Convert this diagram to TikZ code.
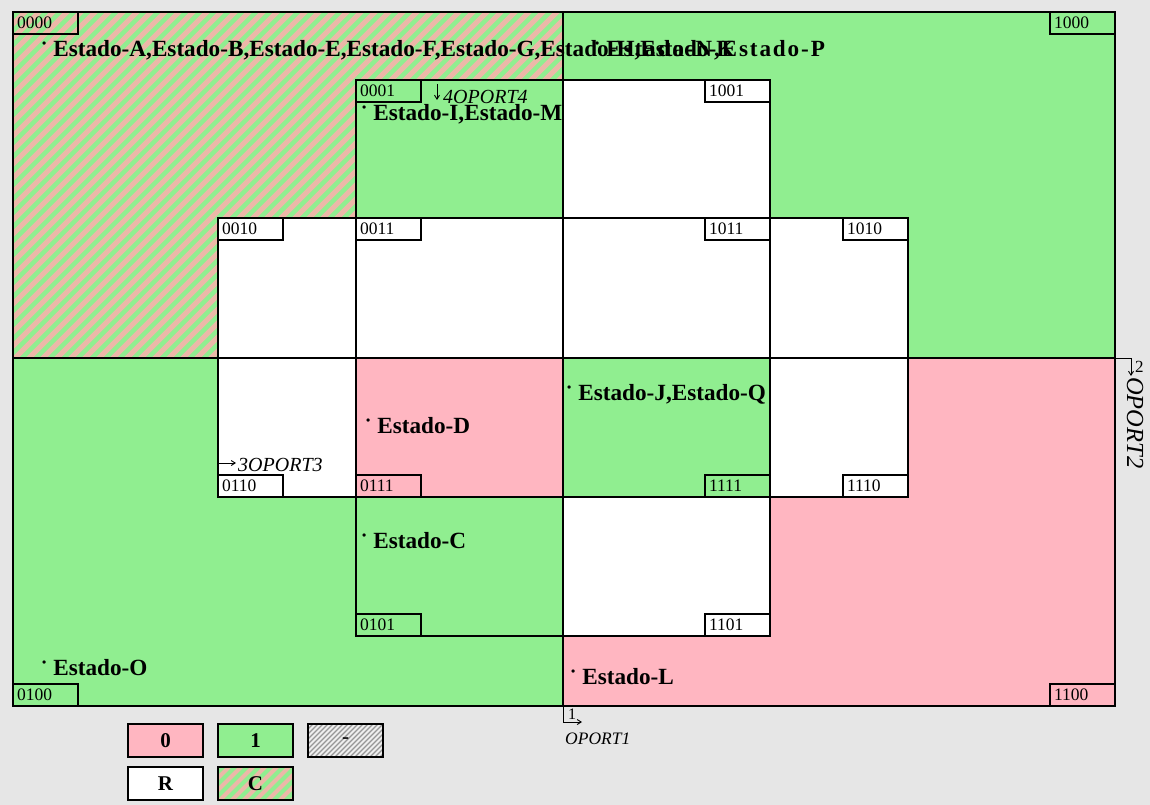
\documentclass[tikz,border=0pt]{standalone}
\usepackage{fontspec}
\setmainfont{Liberation Serif}
\usetikzlibrary{arrows.meta}
\definecolor{bgc}{RGB}{230,230,230}
\definecolor{lgreen}{RGB}{144,238,144}
\definecolor{lpink}{RGB}{255,182,193}
\definecolor{stripec}{RGB}{236,184,168}
\definecolor{hatchbg}{RGB}{238,238,238}
\definecolor{hatchfg}{RGB}{150,150,150}
\newcommand\bul{{\fontsize{12}{12}\selectfont\raisebox{0.75em}{•}}\hspace{7pt}}
\newcommand\hatch[7]{%
  \begin{scope}
    \clip (#1,#2) rectangle (#3,#4);
    \foreach \k in {-80,...,80}{
      \draw[#6, line width=#7] ({#1+\k*#5},{#4+2}) -- ({#1+\k*#5+(#4-#2)+4},{#2-2});
    }
  \end{scope}}
\newcommand\cellbox[6]{\node[cell, fill=#6, minimum width={#4-#2}, minimum height={#5-#3}] (#1) at (#2,#3) {};}
\newcommand\lab[3]{\node[lbl, anchor=#2] (L#1) at (#3) {#1};}
\begin{document}
\begin{tikzpicture}[x=1pt,y=-1pt,
  cell/.style={draw=black, line width=1.3pt, inner sep=0pt, outer sep=0pt, anchor=north west},
  lbl/.style={draw=black, line width=1.1pt, inner xsep=4pt, inner ysep=0pt, outer sep=0pt,
     text width=57pt, align=left, minimum height=22pt, font=\fontsize{17.5}{17.5}\selectfont},
  st/.style={anchor=base west, inner sep=0pt, font=\fontsize{23.2}{23.2}\selectfont\bfseries},
  port/.style={inner sep=0pt, font=\fontsize{20}{20}\selectfont\itshape},
  conn/.style={line width=0.9pt, -{Straight Barb[length=4pt,width=5pt]}},
  leg/.style={draw=black, line width=1.2pt, inner sep=0pt, outer sep=0pt, minimum width=75pt, minimum height=33pt, font=\fontsize{21}{21}\selectfont\bfseries}]
\useasboundingbox (0,0) rectangle (1150,805);
\fill[bgc] (0,0) rectangle (1150,805);
% quadrants
\cellbox{q0000}{13}{12}{563}{358}{lgreen}
\hatch{13}{12}{563}{358}{14}{stripec}{5pt}
\draw[line width=1.3pt] (q0000.north west) rectangle (q0000.south east);
\cellbox{q1000}{563}{12}{1115}{358}{lgreen}
\cellbox{q0100}{13}{358}{563}{706}{lgreen}
\cellbox{q1100}{563}{358}{1115}{706}{lpink}
% inner cells
\cellbox{c0001}{356}{80}{563}{218}{lgreen}
\cellbox{c1001}{563}{80}{770}{218}{white}
\cellbox{c0010}{218}{218}{356}{358}{white}
\cellbox{c0011}{356}{218}{563}{358}{white}
\cellbox{c1011}{563}{218}{770}{358}{white}
\cellbox{c1010}{770}{218}{908}{358}{white}
\cellbox{c0110}{218}{358}{356}{497}{white}
\cellbox{c0111}{356}{358}{563}{497}{lpink}
\cellbox{c1111}{563}{358}{770}{497}{lgreen}
\cellbox{c1110}{770}{358}{908}{497}{white}
\cellbox{c0101}{356}{497}{563}{636}{lgreen}
\cellbox{c1101}{563}{497}{770}{636}{white}
% labels
\lab{0000}{north west}{q0000.north west}
\lab{1000}{north east}{q1000.north east}
\lab{0100}{south west}{q0100.south west}
\lab{1100}{south east}{q1100.south east}
\lab{0001}{north west}{c0001.north west}
\lab{1001}{north east}{c1001.north east}
\lab{0010}{north west}{c0010.north west}
\lab{0011}{north west}{c0011.north west}
\lab{1011}{north east}{c1011.north east}
\lab{1010}{north east}{c1010.north east}
\lab{0110}{south west}{c0110.south west}
\lab{0111}{south west}{c0111.south west}
\lab{1111}{south east}{c1111.south east}
\lab{1110}{south east}{c1110.south east}
\lab{0101}{south west}{c0101.south west}
\lab{1101}{south east}{c1101.south east}
% state texts
\node[st] (sA) at (42,57) {\bul Estado-A,Estado-B,Estado-E,Estado-F,Estado-G,Estado-H,Estado-K};
\node[st] (sN) at (595,57) {\bul{\addfontfeature{LetterSpace=8}Estado-N,Estado-P}};
\node[st] (sI) at (362,121) {\bul Estado-I,Estado-M};
\node[st] (sJ) at (567,400) {\bul Estado-J,Estado-Q};
\node[st] (sD) at (366,433) {\bul Estado-D};
\node[st] (sC) at (362,548) {\bul Estado-C};
\node[st] (sO) at (42,675) {\bul Estado-O};
\node[st] (sL) at (571,684) {\bul Estado-L};
% ports
\coordinate (p4a) at (437,84);
\coordinate (p4b) at (437,100);
\draw[conn] (p4a) -- (p4b);
\node[port, anchor=base west] (t4) at (443,104) {4OPORT4};
\coordinate (p3a) at (219,463);
\coordinate (p3b) at (236,463);
\draw[conn] (p3a) -- (p3b);
\node[port, anchor=base west] (t3) at (238,471) {3OPORT3};
\coordinate (p1a) at (563,706);
\coordinate (p1b) at (563,722);
\coordinate (p1c) at (582,722);
\draw[conn] (p1a) -- (p1b) -- (p1c);
\node[inner sep=0pt, anchor=base west, font=\fontsize{16}{16}\selectfont] (n1) at (568,719) {1};
\node[port, anchor=base west, font=\fontsize{17.5}{17.5}\selectfont\itshape] (t1) at (565,744) {OPORT1};
\coordinate (p2a) at (1115,358);
\coordinate (p2b) at (1131,358);
\coordinate (p2c) at (1131,376);
\draw[conn] (p2a) -- (p2b) -- (p2c);
\node[inner sep=0pt, anchor=base west, font=\fontsize{17}{17}\selectfont] (n2) at (1135,372) {2};
\node[port, anchor=base west, rotate=-90, font=\fontsize{24.5}{24.5}\selectfont\itshape] (t2) at (1127,377) {OPORT2};
% legend
\node[leg, fill=lpink] (g0) at (165.5,740.5) {0};
\node[leg, fill=lgreen] (g1) at (255.5,740.5) {1};
\node[leg, fill=hatchbg] (gd) at (345.5,740.5) {};
\hatch{308}{724}{383}{757}{5}{hatchfg}{1.1pt}
\node[leg] at (gd) {\fontseries{m}\selectfont -};
\node[leg, fill=white] (gR) at (165.5,783.5) {R};
\node[leg, fill=lgreen] (gC) at (255.5,783.5) {};
\hatch{218}{767}{293}{800}{12}{stripec}{4pt}
\node[leg] at (gC) {C};
\end{tikzpicture}
\end{document}
